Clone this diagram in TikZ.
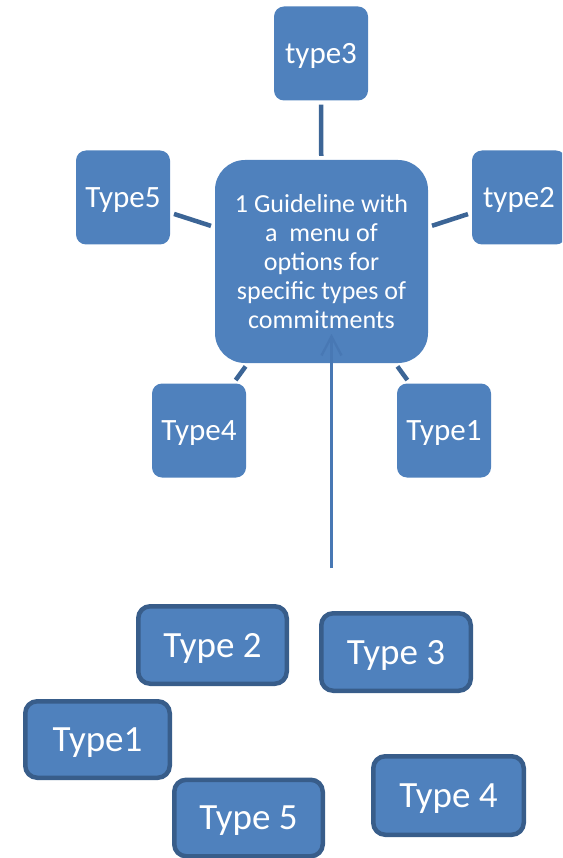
\documentclass[tikz,border=0pt]{standalone}
\usepackage{fontspec}
\setmainfont{Carlito}
\usetikzlibrary{arrows.meta}
\definecolor{boxblue}{HTML}{4F81BD}
\definecolor{edgeblue}{HTML}{385D8A}
\definecolor{connblue}{HTML}{3C6596}
\definecolor{arrowblue}{HTML}{4878B4}
\tikzset{
  sat/.style={fill=boxblue, rounded corners=10pt, minimum width=94pt, minimum height=94pt,
    inner sep=0pt, text=white, font=\fontsize{31}{34}\selectfont, text depth=0pt},
  hub/.style={fill=boxblue, rounded corners=30pt, minimum width=213pt, minimum height=203pt,
    inner sep=0pt, text=white, align=center, font=\fontsize{26}{29}\selectfont},
  loose/.style={fill=boxblue, draw=edgeblue, line width=4.5pt, rounded corners=12pt,
    inner sep=0pt, text=white, font=\fontsize{37}{40}\selectfont, text depth=0pt},
  conn/.style={draw=connblue, line width=4.5pt, shorten >=4pt, shorten <=4pt},
  uparrow/.style={draw=arrowblue, line width=2.3pt, -{Straight Barb[length=19pt,width=20pt]}}
}
\begin{document}
\begin{tikzpicture}[x=1pt,y=-1pt]
\useasboundingbox (0,0) rectangle (562,858);
\clip (0,0) rectangle (562,858);

\node[hub] (hub) at (321.5,261.5) {1 Guideline with\\a\ \ menu of\\options for\\specific types of\\commitments};
\node[sat] (t3) at (321,53.5) {type3};
\node[sat] (t5) at (123,197.5) {Type5};
\node[sat] (t2) at (519,197.5) {type2};
\node[sat] (t4) at (199,430.5) {Type4};
\node[sat] (t1) at (444,430.5) {Type1};

\draw[conn] (t3) -- (hub);
\draw[conn] (t5) -- (hub);
\draw[conn] (t2) -- (hub);
\draw[conn] (t4) -- (hub);
\draw[conn] (t1) -- (hub);

\coordinate (arrS) at (331.5,568);
\coordinate (arrE) at (331.5,334);
\draw[uparrow] (arrS) -- (arrE);

\node[loose, minimum width=148.5pt, minimum height=77.5pt] (b2) at (212.5,645) {Type 2};
\node[loose, minimum width=149.5pt, minimum height=77.5pt] (b3) at (396,652) {Type 3};
\node[loose, minimum width=144.5pt, minimum height=76.5pt] (b1) at (97.5,739.5) {Type1};
\node[loose, minimum width=148.5pt, minimum height=76.5pt] (b5) at (248.5,818) {Type 5};
\node[loose, minimum width=150.5pt, minimum height=78.5pt] (b4) at (448.5,795.5) {Type 4};
\end{tikzpicture}
\end{document}
